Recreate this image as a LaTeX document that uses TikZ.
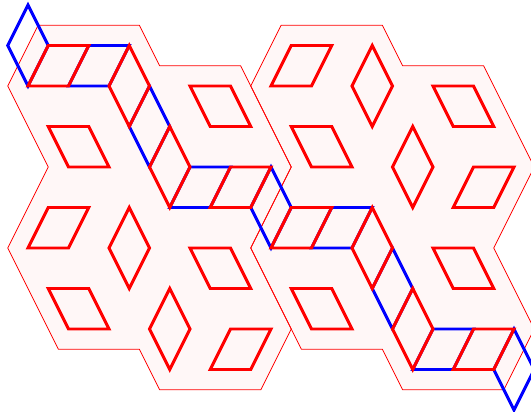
\documentclass[tikz,border=0pt]{standalone}
\begin{document}
\begin{tikzpicture}[x=15.1875pt,y=-30.375pt,
  region/.style={red,line width=0.6pt},
  redtile/.style={draw=red,line width=2.2pt},
  bluetile/.style={draw=blue,line width=2.2pt}]
  \useasboundingbox (-0.383,-0.1235) rectangle (25.84,10.049);
  \foreach \s in {0,12} \fill[red!3,shift={(\s,0)}] (0,2)--(1.5,0.5)--(6.5,0.5)--(7.5,1.5)--(11.5,1.5)--(14,4)--(12,6)--(14,8)--(12.5,9.5)--(7.5,9.5)--(6.5,8.5)--(2.5,8.5)--(0,6)--(2,4)--cycle;
  \foreach \s in {0,12} \draw[region,shift={(\s,0)}] (0,2)--(1.5,0.5)--(6.5,0.5)--(7.5,1.5)--(11.5,1.5)--(14,4)--(12,6)--(14,8)--(12.5,9.5)--(7.5,9.5)--(6.5,8.5)--(2.5,8.5)--(0,6)--(2,4)--cycle;
  \foreach \i/\j in {1/0,7/2,13/4,19/6,25/8} \draw[bluetile] (\i,\j)--++(-1,1)--++(1,1)--++(1,-1)--cycle;
  \foreach \i/\j in {4/1,9/4,16/5,21/8} \draw[bluetile] (\i,\j)--++(2,0)--++(-1,1)--++(-2,0)--cycle;
  \foreach \s in {0,12} {
    \foreach \i/\j in {2/1,11/4,2/5,11/8} \draw[redtile,shift={(\s,0)}] (\i,\j)--++(2,0)--++(-1,1)--++(-2,0)--cycle;
    \foreach \i/\j in {9/2,2/3,9/6,2/7} \draw[redtile,shift={(\s,0)}] (\i,\j)--++(2,0)--++(1,1)--++(-2,0)--cycle;
    \foreach \i/\j in {6/1,8/3,6/5,8/7} \draw[redtile,shift={(\s,0)}] (\i,\j)--++(-1,1)--++(1,1)--++(1,-1)--cycle;
  }
\end{tikzpicture}
\end{document}
